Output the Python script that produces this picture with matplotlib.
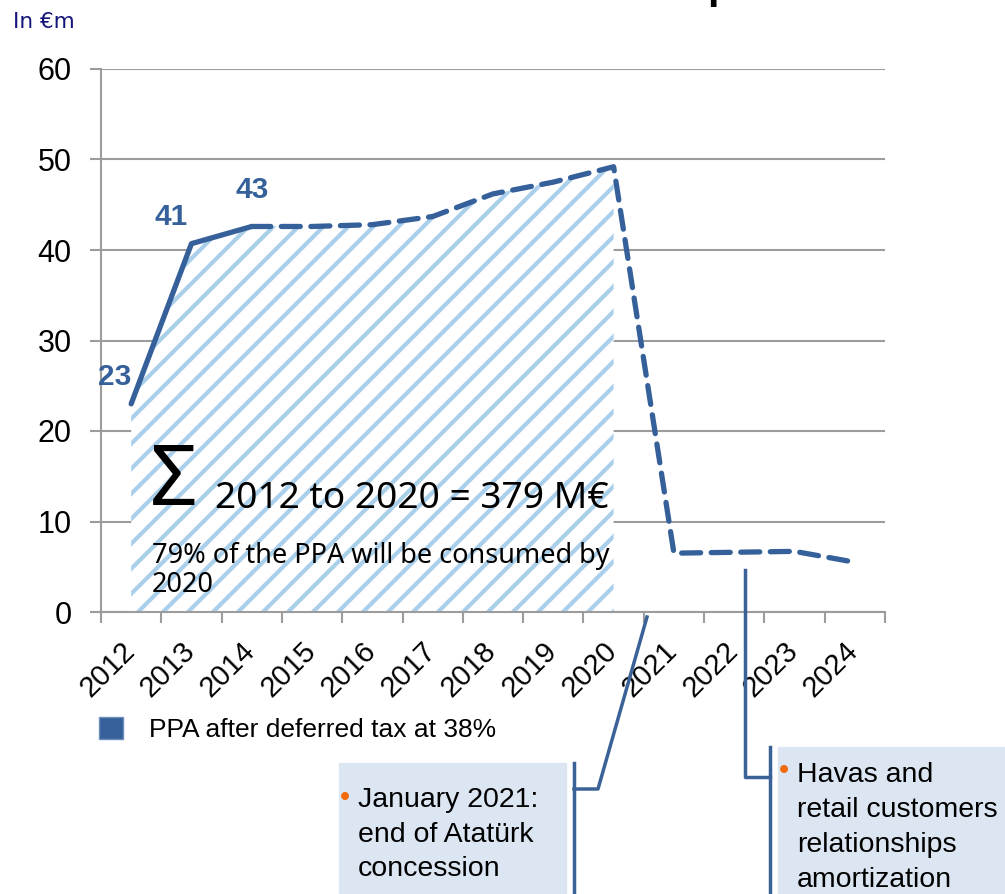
import matplotlib
matplotlib.use("Agg")
import matplotlib.pyplot as plt
import matplotlib.transforms as mtransforms
from matplotlib.backend_bases import GraphicsContextBase
from matplotlib.patches import Patch, Rectangle
from matplotlib.lines import Line2D
from matplotlib.path import Path

# donnees (en M EUR)
annees = ["2012", "2013", "2014", "2015", "2016", "2017", "2018",
          "2019", "2020", "2021", "2022", "2023", "2024"]
ppa = [23.0, 40.7, 42.6, 42.6, 42.8, 43.7, 46.2, 47.5, 49.2, 6.5, 6.6, 6.7, 5.5]
n_solide = 3          # 2012-2014 en trait plein, le reste en pointille
n_cumul = 9           # zone hachuree 2012 -> 2020
points_etiquetes = [0, 1, 2]
yticks = [0, 10, 20, 30, 40, 50, 60]

legende = "PPA after deferred tax at 38%"
texte_somme = "2012 to 2020 = 379 M€"
texte_part = ["79% of the PPA will be consumed by", "2020"]
note_1 = ["January 2021:", "end of Atatürk", "concession"]
note_2 = ["Havas and", "retail customers", "relationships", "amortization"]

bleu = "#36609A"
bleu_clair = "#A9CFEA"
gris = "#9C9C9C"
fond_note = "#DCE6F2"
orange = "#F26A0C"
trait = "#3A6296"

W, H = 1005, 894
plt.rcParams["hatch.linewidth"] = 3.0


# hachures un peu plus serrees que la densite par defaut (6)
def _chemin_hachures(self, density=8.0):
    h = self.get_hatch()
    return None if h is None else Path.hatch(h, density)


GraphicsContextBase.get_hatch_path = _chemin_hachures


def fx(px):
    return px / W


def fy(py):
    return 1 - py / H


fig = plt.figure(figsize=(W / 100, H / 100), dpi=100)
ax = fig.add_axes([fx(101), fy(612), 784 / W, 543 / H])

x = list(range(len(annees)))

ax.fill_between(x[:n_cumul], 0, ppa[:n_cumul], facecolor="white",
                edgecolor=bleu_clair, linewidth=0, hatch="/", zorder=1)
ax.plot(x[:n_solide], ppa[:n_solide], color=bleu, lw=3.8,
        solid_capstyle="round", zorder=3)
ax.plot(x[n_solide - 1:], ppa[n_solide - 1:], color=bleu, lw=3.8,
        dashes=(3.6, 2.0), dash_capstyle="round", zorder=3)

decalages = [(-12, 19), (-15, 19), (0, 26)]
for i, d in zip(points_etiquetes, decalages):
    ax.annotate(f"{ppa[i]:.0f}", (x[i], ppa[i]), xytext=d,
                textcoords="offset points", ha="center", va="center",
                fontsize=21.5, fontweight="bold", color=bleu,
                family="Liberation Sans")

ax.set_xlim(-0.5, len(annees) - 0.5)
ax.set_ylim(0, 60)
ax.set_yticks(yticks)
ax.set_yticklabels([str(v) for v in yticks], fontsize=22, family="Liberation Sans")
ax.set_xticks(x)
ax.set_xticklabels(annees, rotation=45, ha="right", fontsize=21,
                   family="Liberation Sans")
ax.set_xticks([i - 0.5 for i in range(len(annees) + 1)], minor=True)
ax.tick_params(axis="x", which="major", length=0, pad=18)
ax.tick_params(axis="x", which="minor", length=8, width=1.5, color=gris)
ax.tick_params(axis="y", length=8, width=1.5, color=gris, pad=13)
decal = mtransforms.ScaledTranslation(0.09, 0, fig.dpi_scale_trans)
for lab in ax.get_xticklabels():
    lab.set_transform(lab.get_transform() + decal)

ax.yaxis.grid(True, color=gris, lw=1.5)
ax.set_axisbelow(True)
for s in ["top", "right"]:
    ax.spines[s].set_visible(False)
for s in ["left", "bottom"]:
    ax.spines[s].set_color(gris)
    ax.spines[s].set_linewidth(1.5)

# textes dans la zone hachuree
fig.text(fx(150), fy(505), "Σ", fontsize=60, family="Noto Sans", va="baseline")
fig.text(fx(215), fy(508), texte_somme, fontsize=26.7, family="Noto Sans",
         va="baseline")
for k, ligne in enumerate(texte_part):
    fig.text(fx(152), fy(563 + 29 * k), ligne, fontsize=19.5,
             family="Noto Sans", va="baseline")

fig.text(fx(13), fy(28), "In €m", fontsize=15.5, family="DejaVu Sans",
         color="#14147A", va="baseline")
# bas d'une lettre du titre, coupe par le bord superieur
fig.text(fx(707), fy(-2), "p", fontsize=30, fontweight="bold",
         family="Liberation Sans", va="baseline")

fig.legend(handles=[Patch(facecolor=bleu, edgecolor="#6F8FBB", lw=1)],
           labels=[legende], loc="upper left",
           bbox_to_anchor=(fx(99), fy(717)), frameon=False,
           prop={"family": "Liberation Sans", "size": 19},
           handlelength=0.9, handleheight=0.9, handletextpad=1.0,
           borderpad=0, borderaxespad=0)

# encadres
fig.patches.append(Rectangle((fx(339), fy(900)), 227 / W, 137 / H,
                             transform=fig.transFigure, color=fond_note, zorder=0))
fig.patches.append(Rectangle((fx(778), fy(900)), 240 / W, 153 / H,
                             transform=fig.transFigure, color=fond_note, zorder=0))

for k, ligne in enumerate(note_1):
    fig.text(fx(358), fy(807 + 34.5 * k), ligne, fontsize=20.5,
             family="Liberation Sans", va="baseline")
for k, ligne in enumerate(note_2):
    fig.text(fx(797), fy(782 + 35 * k), ligne, fontsize=20.5,
             family="Liberation Sans", va="baseline")
fig.text(fx(340), fy(806), "•", fontsize=21, color=orange,
         family="Liberation Sans", va="baseline")
fig.text(fx(779), fy(779), "•", fontsize=21, color=orange,
         family="Liberation Sans", va="baseline")

# traits de rappel
for xs, ys in [([647, 598, 574], [617, 789, 789]),
               ([574, 574], [763, 900]),
               ([745, 745, 770], [570, 777, 777]),
               ([770, 770], [747, 900])]:
    fig.lines.append(Line2D([fx(v) for v in xs], [fy(v) for v in ys],
                            transform=fig.transFigure, color=trait, lw=2.5,
                            zorder=10))

fig.savefig("out.png", dpi=100)
